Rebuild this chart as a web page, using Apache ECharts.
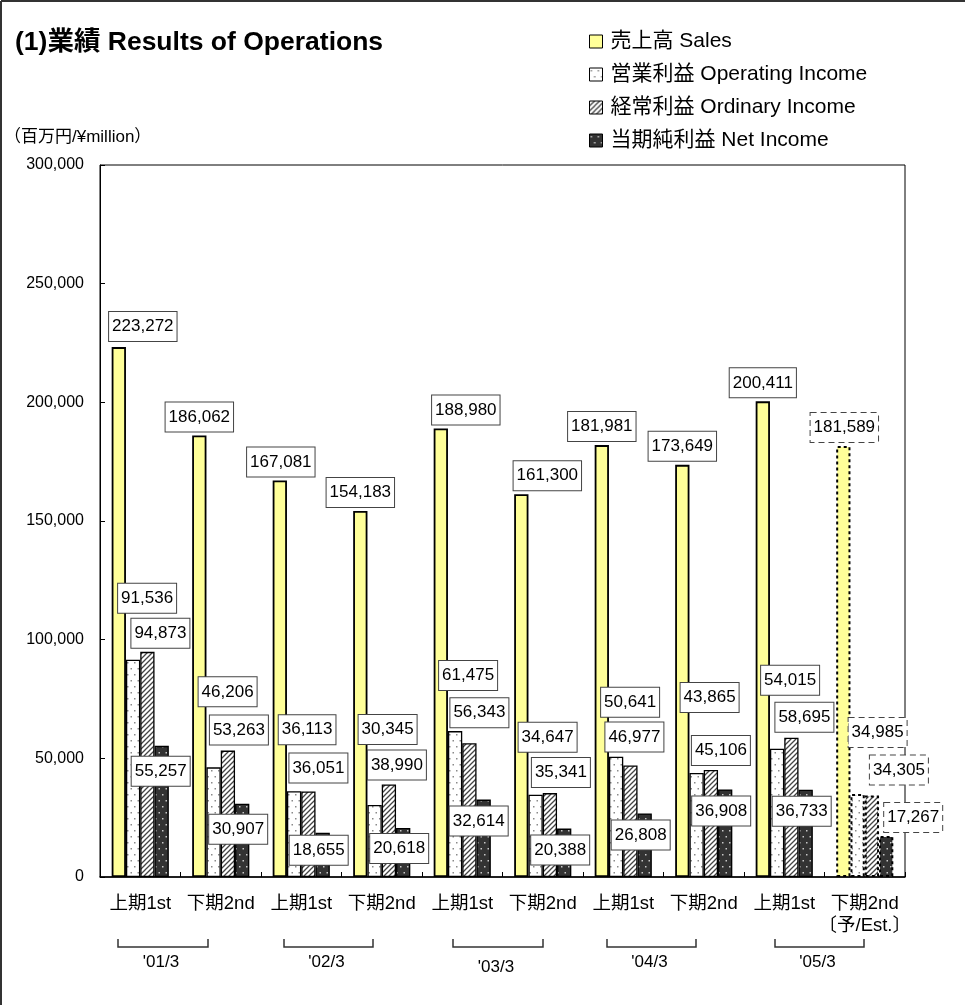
<!DOCTYPE html>
<html><head><meta charset="utf-8">
<script src="https://cdn.jsdelivr.net/npm/echarts@6/dist/echarts.min.js"></script>
<style>html,body{margin:0;padding:0;background:#fff}#c{width:965px;height:1005px}</style>
</head><body><div id="c"></div>
<script>
// ---- data ----
const categories = ['上期1st','下期2nd','上期1st','下期2nd','上期1st','下期2nd','上期1st','下期2nd','上期1st','下期2nd\n〔予/Est.〕'];
const yearLabels = ["'01/3","'02/3","'03/3","'04/3","'05/3"];
const seriesNames = ['売上高 Sales','営業利益 Operating Income','経常利益 Ordinary Income','当期純利益 Net Income'];
const sales           = [223272,186062,167081,154183,188980,161300,181981,173649,200411,181589];
const operatingIncome = [ 91536, 46206, 36113, 30345, 61475, 34647, 50641, 43865, 54015, 34985];
const ordinaryIncome  = [ 94873, 53263, 36051, 38990, 56343, 35341, 46977, 45106, 58695, 34305];
const netIncome       = [ 55257, 30907, 18655, 20618, 32614, 20388, 26808, 36908, 36733, 17267];
const estimateIndex = 9;

// ---- label layout (offsets relative to bar top centre) ----
const salesLabelOff = [[24,-6],[0,-4],[1,-4],[0,-4],[25,-4],[26,-4],[0,-4],[0,-4],[0,-4],[1,-4]];
const opLabelOff    = [[14,-47],[14,-61],[13,-47],[13,-61],[13,-41],[12,-43],[14,-40],[13,-61],[13,-54],[20,-47]];
const ordLabelOff   = [[13,-4],[11,-6],[10,-9],[8,-5],[10,-16],[11,-6],[4,-14],[10,-5],[13,-6],[27,-11]];
const netLabelOff   = [[-1,40],[-4,40],[-4,32],[-4,35],[-5,36],[-4,36],[-4,36],[-4,36],[-4,36],[27,-4]];
// bracket extents under the category axis (pixels)
const bracketX = [[118,208],[284,373],[453,543],[607,696],[775,864]];
const yearLabelDy = [0,0,5,0,0];

const FONT = "'Liberation Sans', Arial, 'Noto Sans CJK JP', sans-serif";

function tile(w,h,draw){const c=document.createElement('canvas');c.width=w;c.height=h;draw(c.getContext('2d'),w,h);return c;}
const dotsWhite = tile(7,12,(g,w,h)=>{g.fillStyle='#fff';g.fillRect(0,0,w,h);g.fillStyle='#8a8a8a';g.fillRect(1,2,1.5,1.5);g.fillRect(4.5,8,1.5,1.5);});
const dotsDark  = tile(7,12,(g,w,h)=>{g.fillStyle='#333';g.fillRect(0,0,w,h);g.fillStyle='#c8c8c8';g.fillRect(1,2,1.5,1.5);g.fillRect(4.5,8,1.5,1.5);});
const hatch     = tile(5,5,(g,w,h)=>{g.fillStyle='#fff';g.fillRect(0,0,w,h);g.strokeStyle='#444';g.lineWidth=1.3;
  g.beginPath();g.moveTo(-1,6);g.lineTo(6,-1);g.moveTo(-1,1);g.lineTo(1,-1);g.moveTo(4,6);g.lineTo(6,4);g.stroke();});

const colors = ['#FFFF99',{image:dotsWhite,repeat:'repeat'},{image:hatch,repeat:'repeat'},{image:dotsDark,repeat:'repeat'}];

function mkData(values, offs){
  return values.map((v,i)=>{
    const est = i===estimateIndex;
    const d = {value:v, label:{offset:offs[i]}};
    if(est){
      d.label.borderType=[6,4];
      d.itemStyle={borderType:[3,3],borderWidth:2};
    }
    return d;
  });
}

const labelBase = {show:true, position:'top', distance:0, fontFamily:FONT, fontSize:17, color:'#000',
  backgroundColor:'#fff', borderColor:'#444', borderWidth:1, padding:[5,3,5,3], lineHeight:19,
  formatter:p=>p.value.toLocaleString('en-US')};

const valueSets = [sales, operatingIncome, ordinaryIncome, netIncome];
const offSets = [salesLabelOff, opLabelOff, ordLabelOff, netLabelOff];

const series = valueSets.map((vals,k)=>({
  name:seriesNames[k], type:'bar', data:mkData(vals, offSets[k]),
  barGap:'0%', barCategoryGap:'29%',
  itemStyle:{color:colors[k], borderColor:'#000', borderWidth: k===0?1.8:1.3},
  label:labelBase, z: 2+k
}));

const graphic = [
  {type:'line', shape:{x1:1,y1:1,x2:965,y2:1}, style:{stroke:'#333',lineWidth:2}},
  {type:'line', shape:{x1:1,y1:1,x2:1,y2:1005}, style:{stroke:'#333',lineWidth:2}},
  {type:'text', x:4, y:137, style:{text:'（百万円/¥million）', font:"17px "+FONT, fill:'#000', textVerticalAlign:'middle'}}
];
bracketX.forEach((b,i)=>{
  graphic.push({type:'polyline', shape:{points:[[b[0],939],[b[0],947],[b[1],947],[b[1],939]]}, style:{stroke:'#333',lineWidth:1.5,fill:null}});
  graphic.push({type:'text', x:(b[0]+b[1])/2-2, y:962+yearLabelDy[i], style:{text:yearLabels[i], font:"17px "+FONT, fill:'#000', textAlign:'center', textVerticalAlign:'middle'}});
});

const chart = echarts.init(document.getElementById('c'), null, {renderer:'canvas'});
chart.setOption({
  animation:false,
  backgroundColor:'#fff',
  title:{text:'(1)業績 Results of Operations', left:10, top:27, padding:[0,5],
    textStyle:{fontFamily:FONT, fontSize:26.5, fontWeight:'bold', color:'#000', lineHeight:32}},
  legend:{orient:'vertical', left:589, top:31, padding:0, itemWidth:13, itemHeight:13, itemGap:12, icon:'rect',
    data:seriesNames,
    itemStyle:{borderColor:'#000', borderWidth:1},
    textStyle:{fontFamily:FONT, fontSize:21, color:'#000', lineHeight:21, padding:[0,0,0,3]}},
  grid:{left:100, right:60, top:165, bottom:128, show:true, borderColor:'#000', borderWidth:1, backgroundColor:'#fff'},
  xAxis:{type:'category', data:categories,
    axisLine:{lineStyle:{color:'#000', width:1.5}},
    axisTick:{show:true, inside:true, length:5, alignWithLabel:false, interval:0, lineStyle:{color:'#000'}},
    axisLabel:{interval:0, fontFamily:FONT, fontSize:18.5, color:'#000', margin:16, lineHeight:22}},
  yAxis:{type:'value', min:0, max:300000, interval:50000,
    axisLine:{show:true, lineStyle:{color:'#000'}},
    axisTick:{show:true, inside:true, length:5, lineStyle:{color:'#000'}},
    splitLine:{show:false},
    axisLabel:{fontFamily:FONT, fontSize:16, color:'#000', margin:16, formatter:v=>v.toLocaleString('en-US')}},
  series:series,
  graphic:graphic
});
</script></body></html>
